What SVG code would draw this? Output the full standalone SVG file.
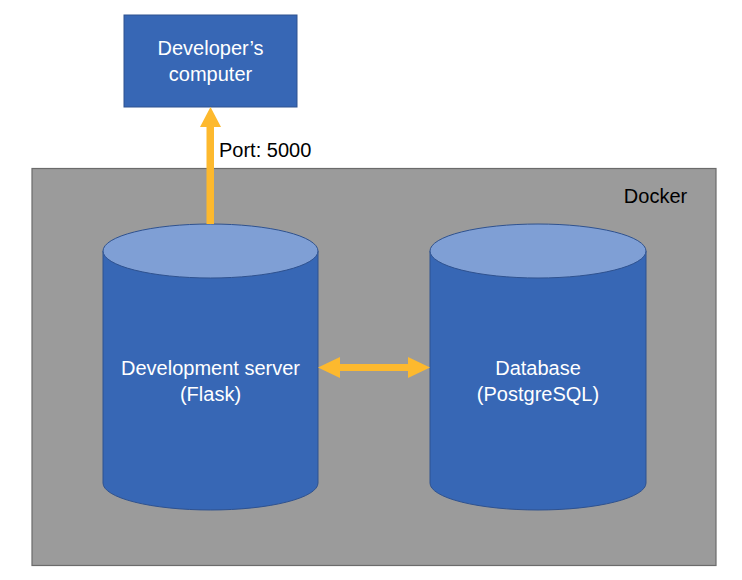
<svg xmlns="http://www.w3.org/2000/svg" width="742" height="580" viewBox="0 0 742 580">
<style>
text{font-family:"Liberation Sans",Arial,sans-serif;font-size:20px;text-anchor:middle}
.w{fill:#ffffff}
.k{fill:#000000}
.body{fill:#3767B5;stroke:#2F528F;stroke-width:1}
.cap{fill:#7F9FD5;stroke:#2F528F;stroke-width:1}
.arrow{fill:#FDB92E}
</style>
<rect width="742" height="580" fill="#ffffff"/>
<g id="docker">
<rect x="32" y="168.5" width="684" height="397" fill="#9B9B9B" stroke="#6B6B6B" stroke-width="1.2"/>
<text class="k" x="655.5" y="203">Docker</text>
</g>
<g id="dev-computer">
<rect class="body" x="124" y="15" width="173" height="92"/>
<text class="w" x="210.5" y="55">Developer’s</text>
<text class="w" x="210.5" y="81">computer</text>
</g>
<g id="dev-server">
<path class="body" d="M103,251 V483 A107.5,27 0 0 0 318,483 V251 Z"/>
<ellipse class="cap" cx="210.5" cy="251" rx="107.5" ry="27"/>
<text class="w" x="210.5" y="375">Development server</text>
<text class="w" x="210.5" y="401">(Flask)</text>
</g>
<g id="database">
<path class="body" d="M430,251 V483 A108,27 0 0 0 646,483 V251 Z"/>
<ellipse class="cap" cx="538" cy="251" rx="108" ry="27"/>
<text class="w" x="538" y="375">Database</text>
<text class="w" x="538" y="401">(PostgreSQL)</text>
</g>
<g id="connectors">
<path class="arrow" d="M206.5,224 V127 H200 L210.5,107 L221,127 H214 V224 Z"/>
<text class="k" x="219" y="157" style="text-anchor:start">Port: 5000</text>
<path class="arrow" d="M318,367.5 L340,357 V364 H408 V357 L430,367.5 L408,378 V371 H340 V378 Z"/>
</g>
</svg>
